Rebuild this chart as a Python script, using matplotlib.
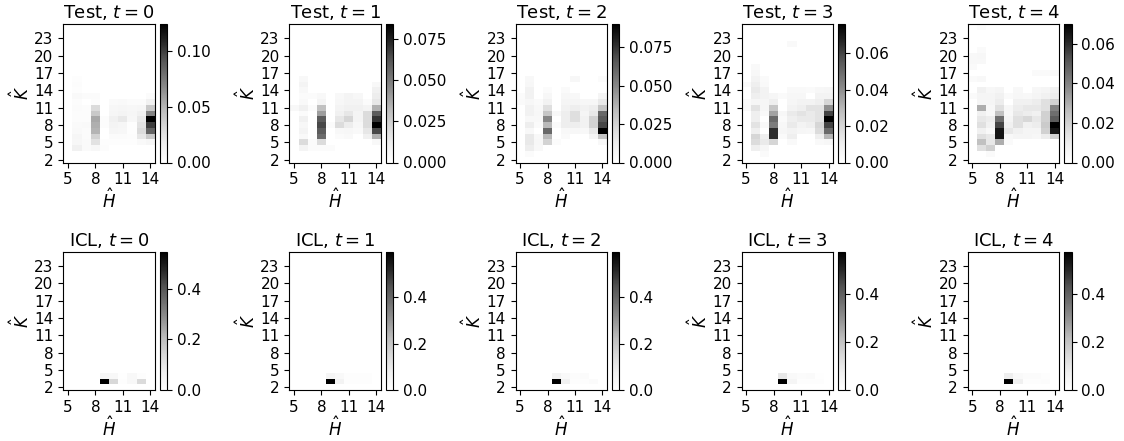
import matplotlib
matplotlib.use('Agg')
import matplotlib.pyplot as plt
import numpy as np

H_vals = np.arange(5, 15)          # columns
K_vals = np.arange(2, 26)          # rows
H_ticks = [5, 8, 11, 14]
K_ticks = [2, 5, 8, 11, 14, 17, 20, 23]
t_steps = [0, 1, 2, 3, 4]

# rows start at K = 2 and go up; missing rows at the top are zero
# columns are H = 5 ... 14
test_t0 = [
    [0, 0, 0, 0, 0, 0, 0, 0, 0, 0],
    [0, 0, 0, 0, 0, 0, 0, 0, 0, 0],
    [0, .015, .005, .008, .003, 0, 0, 0, 0, 0],
    [0, .008, .005, .025, .002, .002, .002, .002, .006, .010],
    [0, .010, .004, .035, 0, .004, .004, .003, .022, .040],
    [0, .006, .004, .050, 0, .010, .008, .002, .030, .085],
    [0, .005, .006, .052, .003, .012, .010, .002, .025, .100],
    [0, .003, .003, .055, .003, .015, .020, .008, .020, .124],
    [0, .003, .003, .040, 0, .010, .012, .010, .015, .070],
    [0, .004, .003, .030, 0, .008, .010, .008, .010, .040],
    [0, .003, 0, .003, 0, .005, .006, .004, .004, .015],
    [0, .006, .004, .004, 0, 0, 0, 0, 0, .004],
    [0, .002, 0, 0, 0, 0, 0, 0, 0, 0],
    [0, .003, 0, 0, 0, 0, 0, 0, 0, 0],
    [0, .002, 0, 0, 0, 0, 0, 0, 0, 0],
]
test_t1 = [
    [0, 0, 0, 0, 0, 0, 0, 0, 0, 0],
    [0, 0, 0, 0, 0, 0, 0, 0, 0, 0],
    [0, .008, .003, .003, .003, 0, 0, 0, 0, 0],
    [0, .020, .003, .020, 0, 0, 0, 0, 0, .005],
    [0, .004, 0, .055, 0, .003, .004, 0, .010, .035],
    [0, .008, 0, .060, 0, .005, .006, .004, .015, .065],
    [0, .006, 0, .065, .003, .020, .012, .006, .020, .084],
    [0, .010, 0, .060, 0, .015, .022, .008, .020, .070],
    [0, .003, 0, .040, 0, .010, .015, .008, .020, .060],
    [.005, .010, .003, .030, 0, .008, .010, .010, .008, .035],
    [0, .004, 0, .008, 0, .006, .008, .008, .003, .015],
    [0, .003, .003, .005, 0, .005, .008, .006, 0, .012],
    [0, .005, 0, 0, 0, 0, 0, 0, 0, .010],
    [0, .008, 0, 0, 0, 0, 0, 0, 0, .005],
    [0, .005, 0, 0, 0, 0, 0, 0, 0, 0],
]
test_t2 = [
    [0, 0, 0, 0, 0, 0, 0, 0, 0, 0],
    [0, .003, 0, 0, 0, 0, 0, 0, 0, 0],
    [0, .012, .005, 0, 0, 0, 0, 0, 0, 0],
    [0, .015, .006, .025, .003, 0, 0, 0, 0, .005],
    [0, .015, .005, .035, 0, .004, 0, 0, .008, .030],
    [0, .005, 0, .060, 0, .005, .006, .005, .015, .090],
    [0, .012, .004, .035, .004, .012, .012, .010, .025, .070],
    [0, .005, .005, .050, 0, .012, .020, .010, .025, .065],
    [0, .010, .006, .030, .005, .012, .020, .008, .015, .060],
    [0, .010, .005, .020, 0, .010, .012, .010, .012, .030],
    [.004, .006, .004, .010, 0, .008, .008, .006, .006, .015],
    [.003, .010, 0, .006, 0, .006, .005, 0, 0, .008],
    [0, .010, 0, .003, 0, .004, 0, 0, 0, 0],
    [0, .006, 0, 0, 0, 0, 0, 0, 0, 0],
    [0, .005, 0, 0, 0, 0, .006, 0, 0, .003],
]
test_t3 = [
    [0, 0, 0, 0, 0, 0, 0, 0, 0, 0],
    [0, 0, .003, 0, 0, 0, 0, 0, 0, 0],
    [0, .010, .006, 0, 0, 0, 0, 0, 0, 0],
    [0, .018, .012, .020, 0, .004, 0, 0, .004, .005],
    [0, .020, .010, .065, .003, .010, 0, 0, .010, .030],
    [0, .010, 0, .065, .006, .008, .006, .005, .018, .050],
    [0, .015, .004, .045, .005, .012, .008, .010, .020, .060],
    [0, .010, 0, .050, .003, .010, .012, .012, .015, .076],
    [0, .010, .004, .035, .005, .012, .015, .012, .015, .060],
    [.004, .015, .006, .025, 0, .008, .010, .015, .015, .040],
    [.003, .006, .006, .010, 0, .006, .008, .008, .010, .020],
    [0, .010, .008, .006, .003, .005, .005, 0, .008, .008],
    [0, .012, .008, 0, 0, .004, .004, .003, .005, .006],
    [.003, .010, .004, 0, 0, 0, 0, 0, 0, 0],
    [0, .008, .003, 0, 0, 0, 0, 0, 0, 0],
    [0, .005, 0, 0, 0, 0, 0, 0, 0, 0],
    [0, .004, 0, 0, 0, 0, 0, 0, 0, 0],
    [0, 0, 0, 0, 0, 0, 0, 0, 0, 0],
    [0, 0, 0, 0, 0, 0, 0, 0, 0, 0],
    [0, 0, 0, 0, 0, 0, 0, 0, 0, 0],
    [0, 0, 0, 0, 0, .004, 0, 0, 0, 0],
]
test_t4 = [
    [0, 0, 0, 0, 0, 0, 0, 0, 0, 0],
    [0, 0, .003, 0, 0, 0, 0, 0, 0, 0],
    [0, .015, .020, 0, 0, 0, 0, 0, 0, 0],
    [0, .025, .012, .030, .003, 0, 0, 0, 0, 0],
    [0, .015, .012, .065, .004, .006, .006, .005, .010, .020],
    [0, .008, .004, .065, .012, .008, .006, .006, .020, .065],
    [0, .015, .008, .055, .008, .015, .008, .010, .022, .070],
    [0, .012, .010, .045, .006, .015, .018, .012, .020, .050],
    [0, .008, .004, .025, .004, .012, .010, .008, .020, .045],
    [0, .030, .005, .015, .005, .010, .012, .012, .015, .040],
    [0, .006, .006, .010, 0, .008, .008, .010, .015, .020],
    [.003, .006, .006, .008, .003, .005, .004, .006, .008, .010],
    [0, .008, .005, .006, 0, .004, 0, .005, .006, .008],
    [0, 0, 0, 0, 0, 0, 0, 0, 0, 0],
    [.003, .004, 0, 0, 0, 0, 0, 0, 0, 0],
    [0, 0, 0, 0, 0, 0, 0, .003, .003, .004],
    [.003, 0, 0, 0, 0, 0, 0, 0, 0, 0],
    [.004, .004, 0, 0, 0, 0, 0, 0, 0, 0],
    [.004, .005, 0, 0, 0, 0, 0, 0, 0, 0],
    [0, .003, 0, 0, 0, 0, 0, 0, 0, 0],
    [0, 0, 0, 0, 0, 0, 0, 0, 0, 0],
    [0, 0, 0, 0, 0, 0, 0, 0, 0, 0],
    [0, 0, 0, 0, 0, 0, 0, 0, 0, 0],
    [0, .002, 0, 0, 0, 0, 0, 0, 0, 0],
]

icl_t0 = [
    [0, 0, 0, 0, 0, 0, 0, 0, 0, 0],
    [0, 0, 0, 0, .545, .14, .01, .03, .13, 0],
    [0, 0, 0, 0, .04, .03, .005, .03, .01, 0],
]
icl_t1 = [
    [0, 0, 0, 0, 0, 0, 0, 0, 0, 0],
    [0, 0, 0, 0, .595, .06, .01, .01, .01, 0],
    [0, 0, 0, 0, .05, .03, .01, .01, .01, 0],
]
icl_t2 = [
    [0, 0, 0, 0, 0, 0, 0, 0, 0, 0],
    [0, 0, 0, 0, .594, .07, .01, .01, .02, 0],
    [0, 0, 0, 0, .06, .03, .015, .02, 0, 0],
]
icl_t3 = [
    [0, 0, 0, 0, 0, 0, 0, 0, 0, 0],
    [0, 0, 0, 0, .575, .05, .01, .01, .01, 0],
    [0, 0, 0, 0, .10, .03, .02, .025, .005, 0],
]
icl_t4 = [
    [0, 0, 0, 0, 0, 0, 0, 0, 0, 0],
    [0, 0, 0, 0, .575, .07, .01, .01, .015, 0],
    [0, 0, 0, 0, .08, .03, .02, .02, .01, 0],
]

test_maps = [test_t0, test_t1, test_t2, test_t3, test_t4]
icl_maps = [icl_t0, icl_t1, icl_t2, icl_t3, icl_t4]


def full(rows):
    z = np.zeros((len(K_vals), len(H_vals)))
    z[:len(rows)] = np.array(rows, dtype=float)
    return z


W, Hpx = 1124, 441
fig = plt.figure(figsize=(W / 100, Hpx / 100), dpi=100)

h_edges = np.append(H_vals - 0.5, H_vals[-1] + 0.5)
k_edges = np.append(K_vals - 0.5, K_vals[-1] + 0.5)

row_tops = [24, 251.7]
ax_h = 138.5
ax_w = 91.5
lefts = [63.3 + 226.1 * i for i in range(5)]

for r, (name, maps) in enumerate([('Test', test_maps), ('ICL', icl_maps)]):
    for c, t in enumerate(t_steps):
        z = full(maps[c])
        bottom = Hpx - row_tops[r] - ax_h
        ax = fig.add_axes([lefts[c] / W, bottom / Hpx, ax_w / W, ax_h / Hpx])
        mesh = ax.pcolormesh(h_edges, k_edges, z, cmap='Greys', vmin=0, vmax=z.max())
        ax.set_xticks(H_ticks)
        ax.set_yticks(K_ticks)
        ax.tick_params(labelsize=11)
        ax.set_xlabel(r'$\hat{H}$', fontsize=12, labelpad=1)
        ax.set_ylabel(r'$\hat{K}$', fontsize=12, labelpad=1)
        ax.set_title(name + ', $t=%d$' % t, fontsize=13, pad=4)
        cax = fig.add_axes([(lefts[c] + 96.3) / W, bottom / Hpx, 7.5 / W, ax_h / Hpx])
        cb = fig.colorbar(mesh, cax=cax)
        cb.ax.tick_params(labelsize=11)

plt.savefig('out.png', dpi=100)
